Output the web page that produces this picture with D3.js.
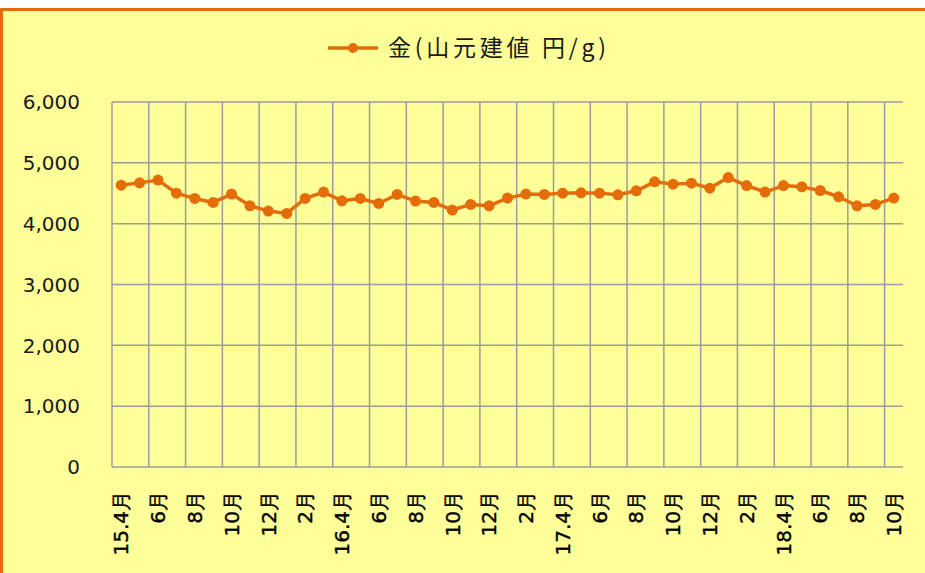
<!DOCTYPE html>
<html>
<head>
<meta charset="utf-8">
<script src="https://cdn.jsdelivr.net/npm/d3@7"></script>
<style>
    body { margin: 0; background: #fff; }
    svg { display: block; }
</style>
</head>
<body>
<svg id="chart" width="925" height="573"></svg>
<script>
'use strict';

const seriesName = '金(山元建値 円/g)';

const months = [
    '15.4月', '5月', '6月', '7月', '8月', '9月', '10月', '11月', '12月', '1月', '2月', '3月',
    '16.4月', '5月', '6月', '7月', '8月', '9月', '10月', '11月', '12月', '1月', '2月', '3月',
    '17.4月', '5月', '6月', '7月', '8月', '9月', '10月', '11月', '12月', '1月', '2月', '3月',
    '18.4月', '5月', '6月', '7月', '8月', '9月', '10月'
];

const goldPrice = [
    4633, 4671, 4716, 4502, 4414, 4349, 4486, 4294, 4207, 4169, 4414, 4519,
    4376, 4414, 4332, 4480, 4371, 4349, 4224, 4316, 4294, 4420, 4486, 4480,
    4502, 4507, 4502, 4474, 4540, 4688, 4650, 4666, 4584, 4758, 4627, 4519,
    4627, 4605, 4545, 4442, 4294, 4316, 4420
];

const yTicks = [0, 1000, 2000, 3000, 4000, 5000, 6000];

const orange = '#e46c0a';
const gridColor = '#9c9c9c';

const svg = d3.select('#chart');

// frame: only the top and left edges show, the rest is cut off
svg.append('rect')
    .attr('x', 1.5)
    .attr('y', 9.5)
    .attr('width', 1000)
    .attr('height', 1000)
    .attr('fill', '#ffff99')
    .attr('stroke', orange)
    .attr('stroke-width', 3);

const plot = { left: 112, right: 903, top: 102, bottom: 467 };

const x = d3.scaleBand()
    .domain(d3.range(months.length))
    .range([plot.left, plot.right])
    .padding(0);

const y = d3.scaleLinear()
    .domain([0, 6000])
    .range([plot.bottom, plot.top]);

// horizontal gridlines
svg.append('g')
    .selectAll('line')
    .data(yTicks)
    .join('line')
    .attr('x1', plot.left)
    .attr('x2', plot.right)
    .attr('y1', (d) => y(d))
    .attr('y2', (d) => y(d))
    .attr('stroke', gridColor)
    .attr('stroke-width', 1.5);

// vertical gridlines every two months, on category boundaries
const vLines = d3.range(0, months.length, 2);
svg.append('g')
    .selectAll('line')
    .data(vLines)
    .join('line')
    .attr('x1', (d) => x(d))
    .attr('x2', (d) => x(d))
    .attr('y1', plot.top)
    .attr('y2', plot.bottom)
    .attr('stroke', gridColor)
    .attr('stroke-width', 1.5);

// y axis labels
svg.append('g')
    .selectAll('text')
    .data(yTicks)
    .join('text')
    .attr('x', 80)
    .attr('y', (d) => y(d))
    .attr('dy', '0.36em')
    .attr('text-anchor', 'end')
    .attr('font-family', 'DejaVu Sans, sans-serif')
    .attr('font-size', 20)
    .attr('fill', '#1a1a1a')
    .text((d) => d3.format(',')(d));

// x axis labels, rotated
svg.append('g')
    .selectAll('text')
    .data(vLines)
    .join('text')
    .attr('transform', (d) => `translate(${x(d) + x.bandwidth() / 2},491) rotate(-90)`)
    .attr('dy', '0.36em')
    .attr('text-anchor', 'end')
    .attr('font-family', 'DejaVu Sans, sans-serif')
    .attr('font-size', 20)
    .attr('fill', '#000')
    .attr('stroke', '#000')
    .attr('stroke-width', 0.4)
    .text((d) => months[d]);

// series line
const line = d3.line()
    .x((d, i) => x(i) + x.bandwidth() / 2)
    .y((d) => y(d));

svg.append('path')
    .datum(goldPrice)
    .attr('d', line)
    .attr('fill', 'none')
    .attr('stroke', orange)
    .attr('stroke-width', 3.5)
    .attr('stroke-linejoin', 'round');

svg.append('g')
    .selectAll('circle')
    .data(goldPrice)
    .join('circle')
    .attr('cx', (d, i) => x(i) + x.bandwidth() / 2)
    .attr('cy', (d) => y(d))
    .attr('r', 5.5)
    .attr('fill', orange);

// legend
const legend = svg.append('g').attr('transform', 'translate(328,48)');
legend.append('line')
    .attr('x1', 0)
    .attr('x2', 50)
    .attr('stroke', orange)
    .attr('stroke-width', 3.5);
legend.append('circle')
    .attr('cx', 25)
    .attr('r', 5)
    .attr('fill', orange);
legend.append('text')
    .attr('x', 60)
    .attr('dy', '0.36em')
    .attr('font-family', 'Noto Sans CJK JP, sans-serif')
    .attr('font-size', 23)
    .attr('textLength', 218)
    .attr('lengthAdjust', 'spacing')
    .attr('fill', '#1a1a1a')
    .text(seriesName);
</script>
</body>
</html>
